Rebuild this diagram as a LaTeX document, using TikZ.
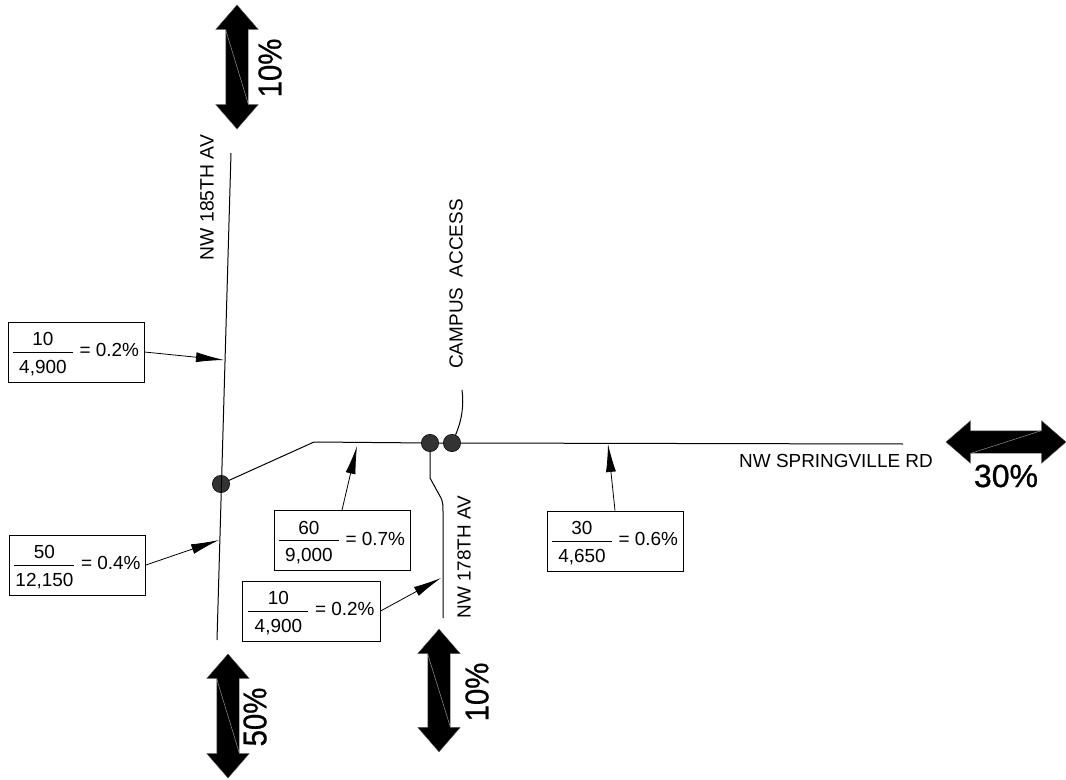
\documentclass[tikz,border=0pt]{standalone}
\usepackage{fontspec}
\setmainfont{Liberation Sans}
\newfontfamily\heavyfont[FakeBold=0.8]{Liberation Sans}
\usetikzlibrary{shapes.arrows}
\usetikzlibrary{arrows.meta}
\newcommand{\share}[4][0pt]{\begin{tabular}{@{}p{45pt}@{}}\centering\rule[-3.75pt]{0pt}{19.5pt}#2\tabularnewline\hline\centering\rule[-3.75pt]{0pt}{19.5pt}#3\end{tabular}\hspace{5pt}= #4\hspace{#1}}
\newcommand{\tallpct}[1]{\scalebox{1}[1.12]{#1}}

\begin{document}
\begin{tikzpicture}[x=0.75pt,y=-0.75pt,
    road/.style={line width=0.75pt},
    shareBox/.style={draw,line width=0.6pt,inner sep=0pt,minimum height=45pt,font=\fontsize{14.2}{15}\selectfont},
    roadName/.style={inner sep=0pt,font=\fontsize{14.2}{16}\selectfont},
    pctLabel/.style={inner sep=0pt,font=\heavyfont\fontsize{22}{24}\selectfont},
    flowArrow/.style={double arrow,fill=black,draw=black!65,line width=0.3pt,inner sep=0pt,text width=0pt,text height=16.5pt,text depth=0pt,minimum width=31.5pt,double arrow head extend=7.5pt,double arrow tip angle=82},
    flowSlash/.style={black!45,line width=0.4pt},
    junction/.style={circle,fill=black!80,draw=black,line width=0.4pt,inner sep=0pt,minimum size=13pt},
    toRoad/.style={-{Latex[length=21pt,width=7.5pt]},line width=0.6pt}]
  \useasboundingbox (0,0) rectangle (1066,780);

  \coordinate (R185N) at (231,153);
  \coordinate (R185S) at (217,640);
  \coordinate (SpringBend) at (314,442);
  \coordinate (SpringE) at (903,444);
  \coordinate (R178Bend) at (441,498);
  \coordinate (R178S) at (443,618);
  \coordinate (CampusTop) at (462,390);

  \node[junction] (J185) at (221,484) {};
  \node[junction] (J178) at (430,443) {};
  \node[junction] (JCampus) at (452,443) {};

  \draw[road] (R185N) -- (R185S);
  \draw[road] (J185) -- (SpringBend) -- (J178) -- (JCampus) -- (SpringE);
  \draw[road] (J178) -- (430,478) -- (R178Bend) .. controls (443,502) and (443,506) .. (443,512) -- (R178S);
  \draw[road] (JCampus) .. controls (462,420) and (464,405) .. (CampusTop);

  \node[roadName,rotate=90,font=\fontsize{14.5}{16}\selectfont] (N185) at (207,197.5) {NW 185TH AV};
  \node[roadName,rotate=90] (NCampus) at (456,284) {CAMPUS\ \ ACCESS};
  \node[roadName,rotate=90] (N178) at (464,557) {NW 178TH AV};
  \node[roadName] (NSpring) at (836,461) {NW SPRINGVILLE RD};

  \node[shareBox,minimum width=102pt] (S185N) at (76,352) {\share[3pt]{10}{4,900}{0.2\%}};
  \node[shareBox,minimum width=102pt] (S185S) at (77.5,565) {\share[1pt]{50}{12,150}{0.4\%}};
  \node[shareBox,minimum width=102pt] (SWest) at (342,540.5) {\share{60}{9,000}{0.7\%}};
  \node[shareBox,minimum width=103pt] (S178) at (311.5,611) {\share[6.75pt]{10}{4,900}{0.2\%}};
  \node[shareBox,minimum width=102pt] (SEast) at (615,541) {\share{30}{4,650}{0.6\%}};

  \coordinate (T185N) at (224,360);
  \coordinate (T185S) at (219,540);
  \coordinate (TWest) at (357,446);
  \coordinate (T178) at (441,578);
  \coordinate (TEast) at (608,444);

  \draw[toRoad] (S185N.east) -- (T185N);
  \draw[toRoad] (S185S.east) -- (T185S);
  \draw[toRoad] (SWest.north) -- (TWest);
  \draw[toRoad] (S178.east) -- (T178);
  \draw[toRoad] (SEast.north) -- (TEast);

  \node[flowArrow,minimum height=93pt,rotate=90] (F185N) at (237,67) {};
  \node[flowArrow,minimum height=93pt,rotate=90] (F185S) at (228,716) {};
  \node[flowArrow,minimum height=92pt,rotate=90] (F178) at (439,690.5) {};
  \node[flowArrow,minimum height=90pt] (FSpring) at (1006,442) {};

  \draw[flowSlash] (F185N.before head 1) -- (F185N.before head 2);
  \draw[flowSlash] (F185S.before head 1) -- (F185S.before head 2);
  \draw[flowSlash] (F178.before head 1) -- (F178.before head 2);
  \draw[flowSlash] (FSpring.before head 1) -- (FSpring.before head 2);

  \node[pctLabel,rotate=90] (P185N) at (270,68) {\tallpct{10\%}};
  \node[pctLabel,rotate=90] (P185S) at (255,717) {\tallpct{50\%}};
  \node[pctLabel,rotate=90] (P178) at (477,692) {\tallpct{10\%}};
  \node[pctLabel,font=\heavyfont\fontsize{24}{26}\selectfont] (PSpring) at (1006,476) {30\%};
\end{tikzpicture}
\end{document}
